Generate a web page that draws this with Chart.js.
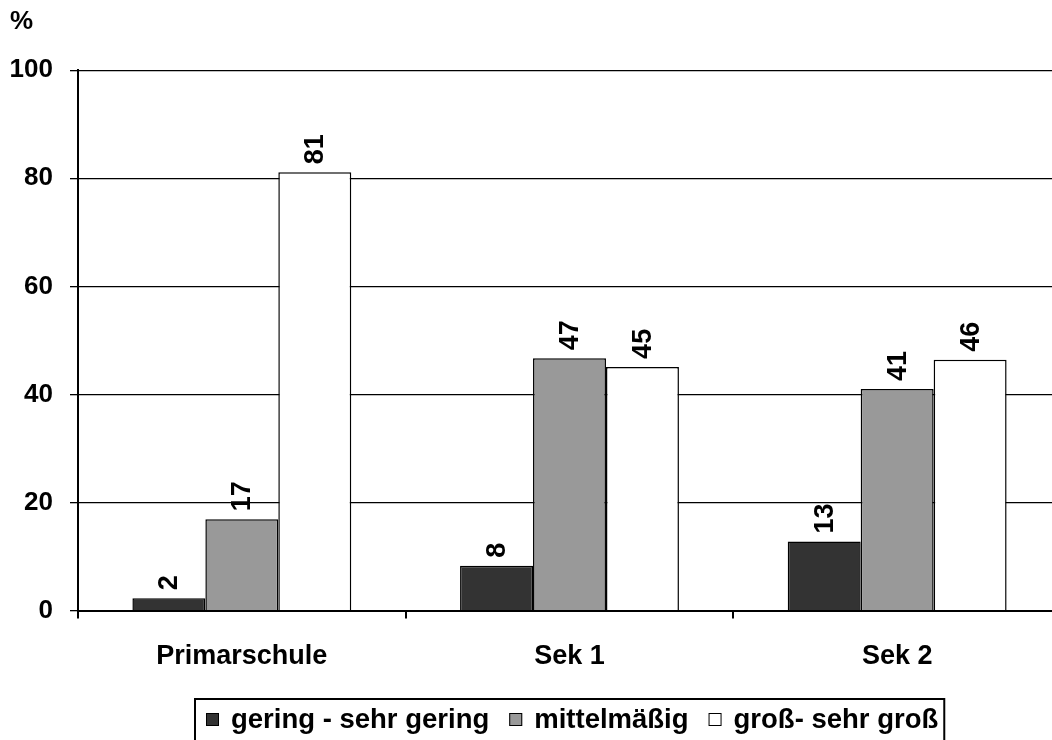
<!DOCTYPE html>
<html>
<head>
<meta charset="utf-8">
<script src="https://cdn.jsdelivr.net/npm/chart.js@4.4.1/dist/chart.umd.min.js"></script>
<style>
  html, body { margin: 0; padding: 0; background: #fff; overflow: hidden; }
  #wrap { width: 1052px; height: 740px; position: relative; overflow: hidden; }
  canvas { display: block; }
</style>
</head>
<body>
<div id="wrap"><canvas id="c" width="1061" height="740"></canvas></div>
<script>
const categories = ['Primarschule', 'Sek 1', 'Sek 2'];
const seriesNames = ['gering - sehr gering', 'mittelmäßig', 'groß- sehr groß'];
const geringValues = [2.3, 8.3, 12.8];
const mittelValues = [16.9, 46.7, 41.0];
const grossValues = [81.1, 45.1, 46.4];
const yTicks = [0, 20, 40, 60, 80, 100];
const unitLabel = '%';

const FONT = '"Liberation Sans", Arial, Helvetica, sans-serif';

const valueLabels = {
  id: 'valueLabels',
  afterDatasetsDraw(chart) {
    const ctx = chart.ctx;
    ctx.save();
    ctx.font = 'bold 27px ' + FONT;
    ctx.fillStyle = '#000';
    ctx.textAlign = 'left';
    ctx.textBaseline = 'middle';
    chart.data.datasets.forEach((ds, di) => {
      const meta = chart.getDatasetMeta(di);
      meta.data.forEach((el, i) => {
        const v = ds.data[i];
        ctx.save();
        ctx.translate(el.x + 1, el.y - 8);
        ctx.rotate(-Math.PI / 2);
        ctx.fillText(String(Math.round(v)), 0, 0);
        ctx.restore();
      });
    });
    ctx.restore();
  }
};

const boxLegend = {
  id: 'boxLegend',
  afterDraw(chart) {
    const ctx = chart.ctx;
    const area = chart.chartArea;
    ctx.save();
    ctx.font = 'bold 27.5px ' + FONT;
    const sq = 13, gapText = 12, gapItem = 20, padL = 11, padR = 6;
    const widths = chart.data.datasets.map(ds => ctx.measureText(ds.label).width);
    let total = padL + padR;
    widths.forEach((w, i) => { total += sq + gapText + w + (i < widths.length - 1 ? gapItem : 0); });
    const cx = (area.left + area.right) / 2;
    const left = Math.round(cx - total / 2);
    const top = 699;
    ctx.lineWidth = 2;
    ctx.strokeStyle = '#000';
    ctx.strokeRect(left, top, total, 60);
    let x = left + padL;
    const midY = 720;
    chart.data.datasets.forEach((ds, i) => {
      ctx.fillStyle = ds.backgroundColor;
      ctx.fillRect(x, midY - 7, sq, sq);
      ctx.lineWidth = 1;
      ctx.strokeStyle = '#000';
      ctx.strokeRect(x + 0.5, midY - 6.5, sq - 1, sq - 1);
      ctx.fillStyle = '#000';
      ctx.textAlign = 'left';
      ctx.textBaseline = 'middle';
      ctx.fillText(ds.label, x + sq + gapText, midY);
      x += sq + gapText + widths[i] + gapItem;
    });
    ctx.restore();
  }
};

new Chart(document.getElementById('c'), {
  type: 'bar',
  data: {
    labels: categories,
    datasets: [
      { label: seriesNames[0], data: geringValues, backgroundColor: '#333333', borderColor: '#000', borderWidth: 1.5 },
      { label: seriesNames[1], data: mittelValues, backgroundColor: '#999999', borderColor: '#000', borderWidth: 1.5 },
      { label: seriesNames[2], data: grossValues, backgroundColor: '#ffffff', borderColor: '#000', borderWidth: 1.5 }
    ]
  },
  options: {
    responsive: false,
    animation: false,
    devicePixelRatio: 1,
    layout: { padding: { left: 10, right: 0, top: 0, bottom: 45 } },
    datasets: { bar: { categoryPercentage: 0.668, barPercentage: 1.0, borderSkipped: 'start' } },
    plugins: {
      legend: { display: false },
      tooltip: { enabled: false },
      title: {
        display: true,
        text: unitLabel,
        align: 'start',
        color: '#000',
        font: { family: FONT, size: 26, weight: 'bold' },
        padding: { top: 6, bottom: 33 }
      }
    },
    scales: {
      x: {
        offset: true,
        grid: { display: true, drawOnChartArea: false, drawTicks: true, tickLength: 8, color: '#000', lineWidth: 2, offset: true },
        border: { display: true, color: '#000', width: 2 },
        ticks: { color: '#000', font: { family: FONT, size: 27, weight: 'bold' }, padding: 22, maxRotation: 0 }
      },
      y: {
        min: 0,
        max: 100,
        afterBuildTicks(scale) { scale.ticks = yTicks.map(v => ({ value: v })); },
        afterFit(scale) { scale.width = 68; },
        grid: { color: '#000', lineWidth: 1.3, drawTicks: true, tickLength: 8 },
        border: { display: true, color: '#000', width: 2 },
        ticks: { color: '#000', font: { family: FONT, size: 26, weight: 'bold' }, padding: 17 }
      }
    }
  },
  plugins: [valueLabels, boxLegend]
});
</script>
</body>
</html>
